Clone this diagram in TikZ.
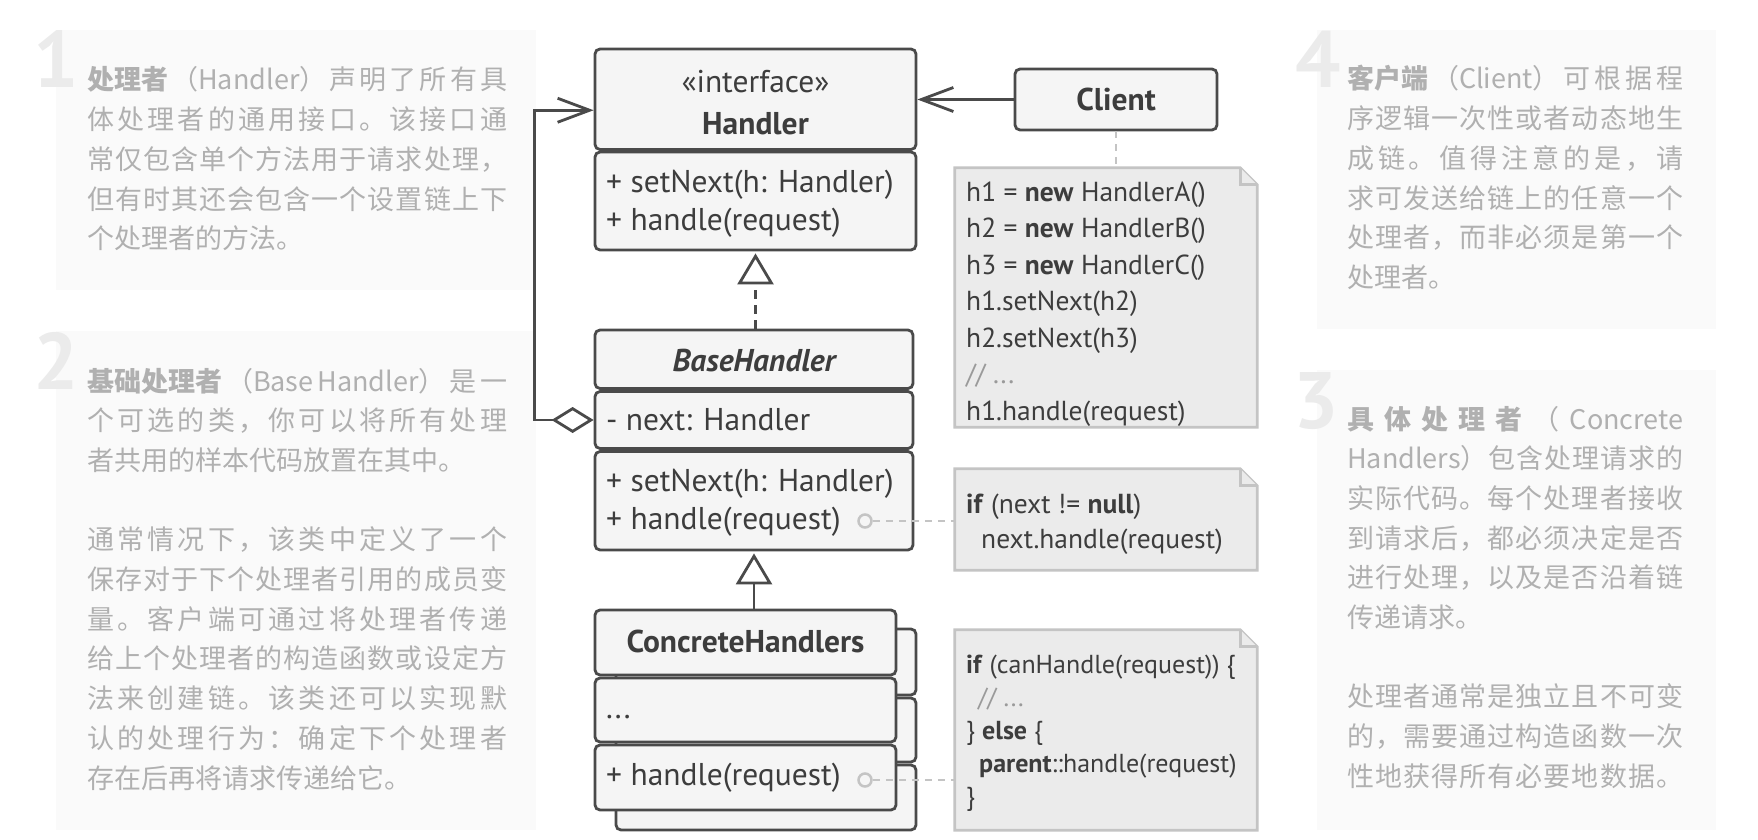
\documentclass[tikz,border=0pt]{standalone}
\usepackage{fontspec}
\setmainfont{PT Sans}
\newfontfamily\cjk{Noto Sans CJK SC}
\usetikzlibrary{arrows.meta,fit}
\definecolor{boxc}{HTML}{4A4A4A}
\definecolor{boxf}{HTML}{F5F5F5}
\definecolor{txt}{HTML}{3D3D3D}
\definecolor{notef}{HTML}{EBEBEB}
\definecolor{notec}{HTML}{C4C4C4}
\definecolor{panelf}{HTML}{FAFAFA}
\definecolor{numc}{HTML}{EBEBEB}
\definecolor{ptxt}{HTML}{B0B0B0}
\definecolor{cmt}{HTML}{9A9A9A}
\def\spreadaux#1{\ifx\relax#1\else{#1}\hskip 0pt plus 1fil\expandafter\spreadaux\fi}
\newcommand\jline[2]{\hbox to #1{\spreadaux#2\relax\unskip}}
\tikzset{
  umlcomp/.style={draw=boxc, fill=boxf, line width=2.8pt, rounded corners=5pt, inner sep=0pt},
  umltxt/.style={text=txt, inner sep=0pt, font=\fontsize{31.5pt}{31.5pt}\selectfont},
  umlbold/.style={text=txt, inner sep=0pt, font=\fontsize{31.5pt}{31.5pt}\selectfont\bfseries},
  notetxt/.style={text=txt, inner sep=0pt, font=\fontsize{27.5pt}{27.5pt}\selectfont, anchor=base west},
  notetxtb/.style={text=txt, inner sep=0pt, font=\fontsize{26pt}{26pt}\selectfont, anchor=base west},
  paratxt/.style={text=ptxt, inner sep=0pt, font=\cjk\fontsize{27pt}{27pt}\selectfont, anchor=base west},
  panelnum/.style={text=numc, inner sep=0pt, font=\fontsize{80pt}{80pt}\selectfont\bfseries, anchor=base east},
  panelbg/.style={fill=panelf, draw=none, inner sep=0pt},
  noteshape/.style={draw=notec, fill=notef, line width=2.8pt, line join=miter},
  solidlink/.style={draw=boxc, line width=2.8pt},
  notelink/.style={draw=notec, line width=2.8pt, dash pattern=on 7pt off 6pt},
  dot/.style={circle, draw=notec, fill=boxf, line width=2.5pt, minimum size=13pt, inner sep=0pt},
  notearea/.style={inner sep=0pt, draw=none}
}
\begin{document}
\begin{tikzpicture}[x=1pt,y=-1pt]
\useasboundingbox (0,0) rectangle (1758,840);
\fill[white] (0,0) rectangle (1758,840);

% ---------- panels ----------
\node[panelbg, fit={(56,30) (536,290)}] (pan1) {};
\node[panelbg, fit={(56,331) (536,830)}] (pan2) {};
\node[panelbg, fit={(1317,30) (1716,329)}] (pan4) {};
\node[panelbg, fit={(1317,370) (1716,830)}] (pan3) {};

\node[panelnum] (num1) at (79,88) {1};
\node[panelnum] (num2) at (79,389) {2};
\node[panelnum] (num4) at (1341,88) {4};
\node[panelnum] (num3) at (1339,428) {3};

% panel 1
\node[paratxt] (p1a) at (87,90) {\jline{420pt}{{\bfseries 处理者}{（Handler）}声明了所有具}};
\node[paratxt] (p1b) at (87,129.7) {\jline{420pt}{体处理者的通用接口。该接口通}};
\node[paratxt] (p1c) at (87,169.4) {\jline{420pt}{常仅包含单个方法用于请求处理，}};
\node[paratxt] (p1d) at (87,209.1) {\jline{420pt}{但有时其还会包含一个设置链上下}};
\node[paratxt] (p1e) at (87,248.8) {个处理者的方法。};

% panel 2
\node[paratxt] (p2a) at (87,391) {\jline{420pt}{{\bfseries 基础处理者}{（Base}{Handler）}是一}};
\node[paratxt] (p2b) at (87,430.7) {\jline{420pt}{个可选的类，你可以将所有处理}};
\node[paratxt] (p2c) at (87,470.4) {者共用的样本代码放置在其中。};
\node[paratxt] (p2d) at (87,549.8) {\jline{420pt}{通常情况下，该类中定义了一个}};
\node[paratxt] (p2e) at (87,589.5) {\jline{420pt}{保存对于下个处理者引用的成员变}};
\node[paratxt] (p2f) at (87,629.2) {\jline{420pt}{量。客户端可通过将处理者传递}};
\node[paratxt] (p2g) at (87,668.9) {\jline{420pt}{给上个处理者的构造函数或设定方}};
\node[paratxt] (p2h) at (87,708.6) {\jline{420pt}{法来创建链。该类还可以实现默}};
\node[paratxt] (p2i) at (87,748.3) {\jline{420pt}{认的处理行为：确定下个处理者}};
\node[paratxt] (p2j) at (87,788) {存在后再将请求传递给它。};

% panel 4
\node[paratxt] (p4a) at (1347,89) {\jline{336pt}{{\bfseries 客户端}{（Client）}可根据程}};
\node[paratxt] (p4b) at (1347,128.7) {\jline{336pt}{序逻辑一次性或者动态地生}};
\node[paratxt] (p4c) at (1347,168.4) {\jline{336pt}{成链。值得注意的是，请}};
\node[paratxt] (p4d) at (1347,208.1) {\jline{336pt}{求可发送给链上的任意一个}};
\node[paratxt] (p4e) at (1347,247.8) {\jline{336pt}{处理者，而非必须是第一个}};
\node[paratxt] (p4f) at (1347,287.5) {处理者。};

% panel 3
\node[paratxt] (p3a) at (1347,429) {\jline{336pt}{{\bfseries 具}{\bfseries 体}{\bfseries 处}{\bfseries 理}{\bfseries 者}{（}{Concrete}}};
\node[paratxt] (p3b) at (1347,468.7) {\jline{336pt}{{Handlers）}包含处理请求的}};
\node[paratxt] (p3c) at (1347,508.4) {\jline{336pt}{实际代码。每个处理者接收}};
\node[paratxt] (p3d) at (1347,548.1) {\jline{336pt}{到请求后，都必须决定是否}};
\node[paratxt] (p3e) at (1347,587.8) {\jline{336pt}{进行处理，以及是否沿着链}};
\node[paratxt] (p3f) at (1347,627.5) {传递请求。};
\node[paratxt] (p3g) at (1347,706.9) {\jline{336pt}{处理者通常是独立且不可变}};
\node[paratxt] (p3h) at (1347,746.6) {\jline{336pt}{的，需要通过构造函数一次}};
\node[paratxt] (p3i) at (1347,786.3) {\jline{336pt}{性地获得所有必要地数据。}};

% ---------- Handler ----------
\node[umlcomp, fit={(595,49) (916,149.5)}] (hhead) {};
\node[umlcomp, fit={(595,152) (916,250)}] (hbody) {};
\node[umltxt, anchor=base] (hster) at (755.5,93) {«interface»};
\node[umlbold, anchor=base] (hname) at (755.5,135) {Handler};
\node[umltxt, anchor=base west] (hm1) at (606,192) {+ setNext(h: Handler)};
\node[umltxt, anchor=base west] (hm2) at (606,230) {+ handle(request)};

% ---------- BaseHandler ----------
\node[umlcomp, fit={(595,330) (913,388.5)}] (bhead) {};
\node[umlcomp, fit={(595,391.5) (913,448.5)}] (bnext) {};
\node[umlcomp, fit={(595,451.5) (913,550)}] (bmeth) {};
\node[umlbold, anchor=base] (bname) at (754,371) {\itshape BaseHandler};
\node[umltxt, anchor=base west] (bf1) at (606,430) {- next: Handler};
\node[umltxt, anchor=base west] (bm1) at (606,491.5) {+ setNext(h: Handler)};
\node[umltxt, anchor=base west] (bm2) at (606,529.5) {+ handle(request)};

% ---------- ConcreteHandlers ----------
\node[umlcomp, fit={(616,629) (916,695)}] (k1) {};
\node[umlcomp, fit={(616,698) (916,762)}] (k2) {};
\node[umlcomp, fit={(616,765) (916,830)}] (k3) {};
\node[umlcomp, fit={(595,610) (896,675)}] (chead) {};
\node[umlcomp, fit={(595,678) (896,742)}] (cdots) {};
\node[umlcomp, fit={(595,745) (896,810)}] (cmeth) {};
\node[umlbold, anchor=base] (cname) at (745.5,652) {ConcreteHandlers};
\node[umltxt, anchor=base west] (cf1) at (606,718) {...};
\node[umltxt, anchor=base west] (cm1) at (606,785) {+ handle(request)};

% ---------- Client ----------
\node[umlcomp, fit={(1015,69) (1217,130)}] (client) {};
\node[umlbold, anchor=base] (cltxt) at (1116,111) {Client};

% ---------- notes ----------
\node[notearea, fit={(955,168) (1257,427)}] (n1) {};
\node[notearea, fit={(955,469) (1257,570)}] (n2) {};
\node[notearea, fit={(955,630) (1257,830)}] (n3) {};
\foreach \n in {n1,n2,n3}{
  \draw[noteshape] (\n.north west) -- ([xshift=-17pt]\n.north east) -- ([yshift=-17pt]\n.north east) -- (\n.south east) -- (\n.south west) -- cycle;
  \draw[noteshape] ([xshift=-17pt]\n.north east) -- ([xshift=-17pt,yshift=-17pt]\n.north east) -- ([yshift=-17pt]\n.north east);
}
\node[notetxt] (t1a) at (966,201) {h1 = \textbf{new} HandlerA()};
\node[notetxt] (t1b) at (966,237.5) {h2 = \textbf{new} HandlerB()};
\node[notetxt] (t1c) at (966,274) {h3 = \textbf{new} HandlerC()};
\node[notetxt] (t1d) at (966,310.5) {h1.setNext(h2)};
\node[notetxt] (t1e) at (966,347) {h2.setNext(h3)};
\node[notetxt, text=cmt] (t1f) at (966,383.5) {// ...};
\node[notetxt] (t1g) at (966,420) {h1.handle(request)};

\node[notetxt] (t2a) at (966,513) {\textbf{if} (next != \textbf{null})};
\node[notetxt] (t2b) at (981,548) {next.handle(request)};

\node[notetxtb] (t3a) at (966,673) {\textbf{if} (canHandle(request)) \{};
\node[notetxtb, text=cmt] (t3b) at (978,706) {// ...};
\node[notetxtb] (t3c) at (966,739) {\} \textbf{else} \{};
\node[notetxtb] (t3d) at (979,772) {\textbf{parent}::handle(request)};
\node[notetxtb] (t3e) at (966,805) {\}};

% ---------- connectors ----------
\node[dot] (d1) at (865,521) {};
\node[dot] (d2) at (865,780) {};
\draw[notelink] (d1.east) -- (d1.east -| n2.west);
\draw[notelink] (d2.east) -- (d2.east -| n3.west);
\draw[notelink] (client.south) -- (client.south |- n1.north);

\draw[solidlink, -{Straight Barb[length=32pt,width=24pt]}] (client.west) -- (client.west -| hhead.east);
\draw[solidlink, dash pattern=on 9pt off 6pt, -{Triangle[open,length=31pt,width=36pt]}, shorten >=2pt] (bhead.north -| hbody.south) -- (hbody.south);
\draw[solidlink, -{Triangle[open,length=31pt,width=36pt]}, shorten >=2pt] (bmeth.south |- chead.north) -- (bmeth.south);
\draw[solidlink, line join=miter, {Diamond[open,length=42pt,width=26pt]}-{Straight Barb[length=32pt,width=24pt]}]
  (bnext.west) -- ++(-59,0) |- ([yshift=-11pt]hhead.west);
\end{tikzpicture}
\end{document}
